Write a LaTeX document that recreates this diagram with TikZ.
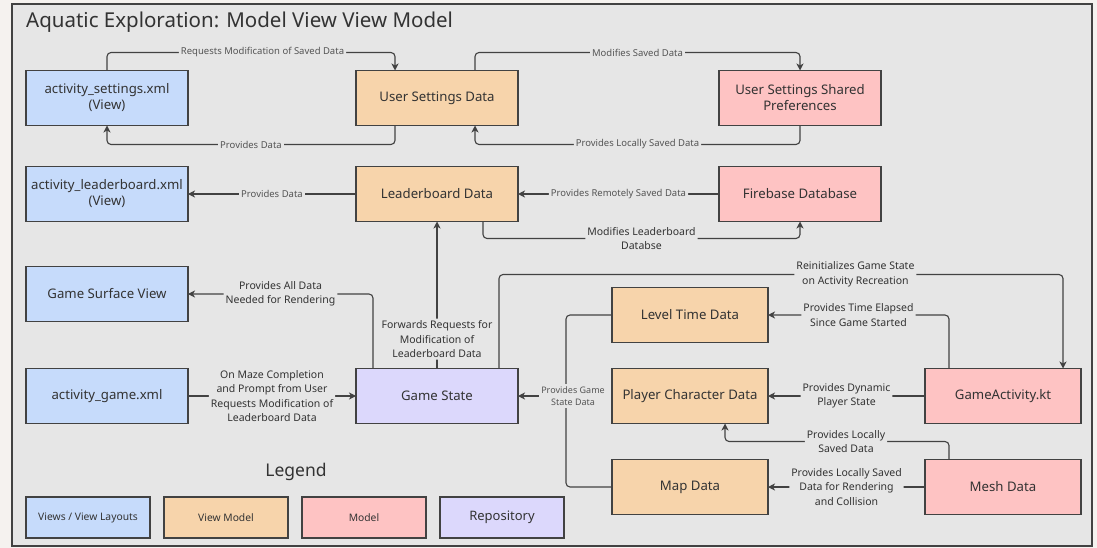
\documentclass[tikz,border=0pt]{standalone}
\usepackage{fontspec}
\setmainfont{Noto Sans}
\usetikzlibrary{arrows.meta,positioning,calc}
\definecolor{pagebg}{HTML}{F5F2EF}
\definecolor{framebg}{HTML}{E6E6E6}
\definecolor{edgegrey}{HTML}{424242}
\definecolor{textgrey}{HTML}{333333}
\definecolor{lblgrey}{HTML}{555555}
\definecolor{viewblue}{HTML}{C6DBFB}
\definecolor{vmorange}{HTML}{F7D4AB}
\definecolor{modelpink}{HTML}{FEC3C3}
\definecolor{repopurple}{HTML}{DCD8FC}

\begin{document}
\begin{tikzpicture}[
    x=1pt, y=-1pt,
    font=\fontsize{13.2}{16}\selectfont,
    box/.style={draw=edgegrey, line width=1.2pt, align=center, text=textgrey, minimum width=162pt, minimum height=55pt, inner sep=2pt, outer sep=0pt},
    viewbox/.style={box, fill=viewblue},
    vmbox/.style={box, fill=vmorange},
    modelbox/.style={box, fill=modelpink},
    repobox/.style={box, fill=repopurple},
    smallbox/.style={minimum width=156pt},
    legendbox/.style={box, minimum width=124pt, minimum height=41pt, font=\fontsize{10.3}{12}\selectfont},
    conn/.style={draw=edgegrey, line width=1.1pt, rounded corners=4pt},
    arrow/.style={conn, -{Stealth[length=7pt,width=7pt,inset=2pt]}},
    lbl/.style={fill=framebg, text=textgrey, align=center, inner sep=2pt, font=\fontsize{10.5}{14.5}\selectfont},
    thinlbl/.style={lbl, text=lblgrey, font=\fontsize{9.5}{14.5}\selectfont}
]
% page and frame
\fill[pagebg] (0,0) rectangle (1097,548);
\draw[fill=framebg, draw=edgegrey, line width=1.3pt] (12,4) rectangle (1092,546);
\node[anchor=west, inner sep=0pt, text=textgrey, font=\fontsize{20.5}{24}\selectfont] (title) at (26,22) {Aquatic Exploration: Model View View Model};

% views
\node[viewbox] (settings) at (107,98) {activity\_settings.xml\\(View)};
\node[viewbox, below=41pt of settings] (leaderxml) {activity\_leaderboard.xml\\(View)};
\node[viewbox, below=45pt of leaderxml] (surface) {Game Surface View};
\node[viewbox, below=47pt of surface] (gamexml) {activity\_game.xml};

% view models and models
\node[vmbox, right=168pt of settings] (usersettings) {User Settings Data};
\node[modelbox, right=201pt of usersettings] (prefs) {User Settings Shared\\Preferences};
\node[vmbox, below=41pt of usersettings] (leaderboard) {Leaderboard Data};
\node[modelbox, below=41pt of prefs] (firebase) {Firebase Database};
\node[repobox, right=168pt of gamexml] (gamestate) {Game State};
\node[vmbox, smallbox, right=94pt of gamestate] (player) {Player Character Data};
\node[vmbox, smallbox, above=26pt of player] (leveltime) {Level Time Data};
\node[vmbox, smallbox, below=36pt of player] (map) {Map Data};
\node[modelbox, smallbox, right=157pt of player] (gameactivity) {GameActivity.kt};
\node[modelbox, smallbox, right=157pt of map] (mesh) {Mesh Data};

% legend
\node[text=textgrey, font=\fontsize{17.5}{20}\selectfont] (legend) at (296,472) {Legend};
\node[legendbox, fill=viewblue] (lgview) at (88,517.5) {Views / View Layouts};
\node[legendbox, fill=vmorange, right=14pt of lgview] (lgvm) {View Model};
\node[legendbox, fill=modelpink, right=14pt of lgvm] (lgmodel) {Model};
\node[legendbox, fill=repopurple, right=14pt of lgmodel, font=\fontsize{13}{15}\selectfont] (lgrepo) {Repository};

% settings
\draw[arrow] (settings.north) -- ++(0,-18) -| ([xshift=-42pt]usersettings.north) node[thinlbl, pos=0.27] {Requests Modification of Saved Data};
\draw[arrow] ([xshift=-42pt]usersettings.south) -- ++(0,19) -| (settings.south) node[thinlbl, pos=0.25] {Provides Data};
\draw[arrow] ([xshift=38pt]usersettings.north) -- ++(0,-18) -| (prefs.north) node[thinlbl, pos=0.25] {Modifies Saved Data};
\draw[arrow] (prefs.south) -- ++(0,19) -| ([xshift=38pt]usersettings.south) node[thinlbl, pos=0.25] {Provides Locally Saved Data};

% leaderboard
\draw[arrow] (leaderboard) -- (leaderxml) node[thinlbl, midway] {Provides Data};
\draw[arrow] (firebase) -- (leaderboard) node[thinlbl, midway] {Provides Remotely Saved Data};
\draw[arrow] ([xshift=46pt]leaderboard.south) -- ++(0,17) -| (firebase.south) node[lbl, pos=0.25] {Modifies Leaderboard\\Databse};

% game state
\draw[arrow] ([xshift=-64pt]gamestate.north) |- (surface.east) node[lbl, pos=0.75] {Provides All Data\\Needed for Rendering};
\draw[arrow] (gamestate) -- (leaderboard) node[lbl, pos=0.2] {Forwards Requests for\\Modification of\\Leaderboard Data};
\draw[arrow] ([xshift=62pt]gamestate.north) -- ++(0,-94) -| ([xshift=60pt]gameactivity.north) node[lbl, pos=0.316] {Reinitializes Game State\\on Activity Recreation};
\draw[arrow] (gamexml) -- (gamestate) node[lbl, midway] {On Maze Completion\\and Prompt from User\\Requests Modification of\\Leaderboard Data};

% game activity and mesh
\draw[arrow] ([xshift=-54pt]gameactivity.north) |- (leveltime.east) node[lbl, pos=0.75] {Provides Time Elapsed\\Since Game Started};
\draw[arrow] (gameactivity) -- (player) node[lbl, midway] {Provides Dynamic\\Player State};
\draw[arrow] ([xshift=-54pt]mesh.north) -- ++(0,-18) -| ([xshift=35pt]player.south) node[lbl, pos=0.23] {Provides Locally\\Saved Data};
\draw[arrow] (mesh) -- (map) node[lbl, midway] {Provides Locally Saved\\Data for Rendering\\and Collision};

% back to game state
\coordinate (gsjoin) at ([xshift=48pt]gamestate.east);
\draw[conn] (leveltime.west) -| (gsjoin);
\draw[conn] (map.west) -| (gsjoin);
\draw[arrow] (gsjoin) -- (gamestate.east);
\node[thinlbl, font=\fontsize{9}{12.5}\selectfont] (gslabel) at ([xshift=7pt]gsjoin) {Provides Game\\State Data};
\end{tikzpicture}
\end{document}
